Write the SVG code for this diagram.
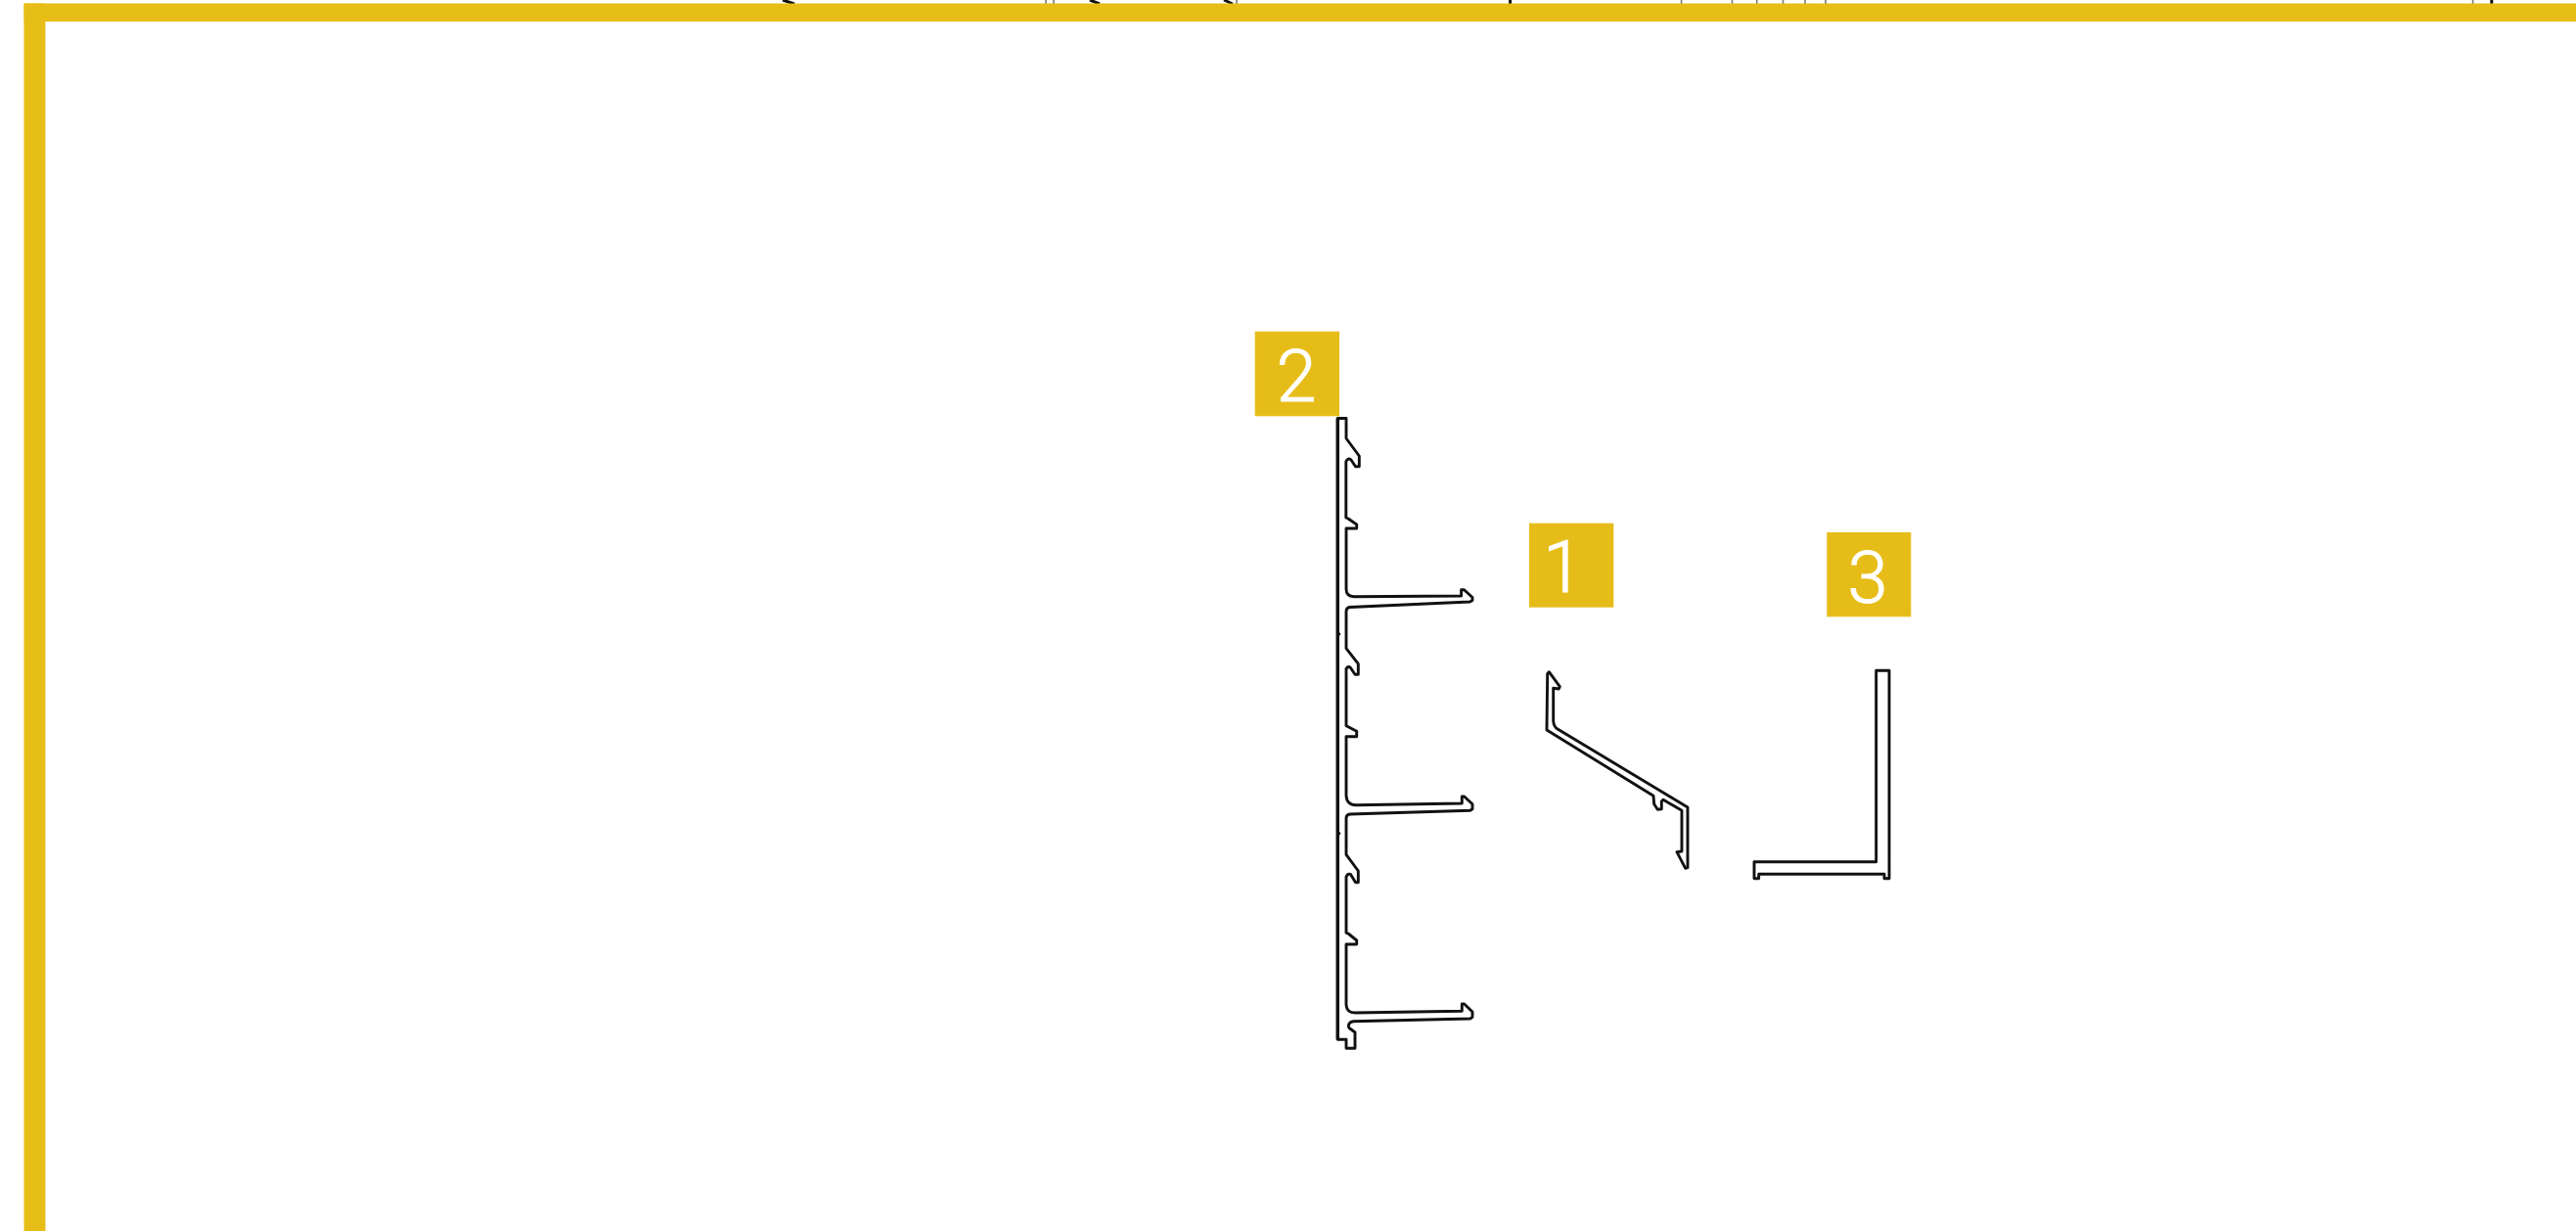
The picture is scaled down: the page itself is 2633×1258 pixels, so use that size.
<svg xmlns="http://www.w3.org/2000/svg" width="2633" height="1258" viewBox="0 0 2633 1258">
<style>
.bar{fill:#e6be17}
.badge{fill:#e6bd18}
.num{font-family:"Roboto","Liberation Sans",sans-serif;font-weight:300;font-size:74px;fill:#fff;stroke:#fff;stroke-width:1;text-anchor:middle}
.profile{fill:#fff;stroke:#111;stroke-width:2.9;stroke-linejoin:round}
.tick{stroke:#777;stroke-width:1.6;fill:none}
.tickd{stroke:#111;stroke-width:3;fill:none}
</style>
<rect width="2633" height="1258" fill="#fff"/>
<g id="cut-off-marks">
<path class="tick" d="M1718.6 0V4M1770.5 0V4M1795.7 0V4M1822.5 0V4M1845 0V4M1866 0V4M2527.6 0V4M1069 0V4M1077 0V4M1264 0V4"/>
<path class="tickd" d="M1543.6 0V4M2546.8 0V4M800 0L812 4M1114 0L1124 4M1251 0L1260 4"/>
</g>
<g id="frame">
<rect class="bar" x="24.5" y="3.5" width="2608.5" height="18.5"/>
<rect class="bar" x="24.5" y="3.5" width="22" height="1254.5"/>
</g>
<g id="node-2">
<rect class="badge" x="1282.7" y="338.7" width="86.3" height="86.6"/>
<text class="num" x="1325" y="409.5">2</text>
<path class="profile" d="M1367.3 427.5H1376V448L1389.3 466V476.7H1385.5L1381 470Q1378 467.5 1375.8 471.7V529L1378 530L1386.7 536V540H1376V602Q1376 609.5 1384 609.7L1493.6 609V602.7H1496.5L1505 610.5V613.5L1502.5 615L1380 620.5Q1376 621 1376 625V662.7L1388.3 678.3V689.3H1385L1380.5 682.5Q1378 680 1376 683.5V741.7L1378 742.7L1386.7 747.3V752.7H1376V813Q1376.5 822.7 1386 822.7L1494.3 821V814H1496.7L1505 821.7V826.7L1502.7 828.3L1380 832Q1376 832.5 1376 836V873.3L1388.3 890V901.7H1385.5L1380.5 893.5Q1378 892 1376 896V953.3L1378 954L1386.7 961V965H1376V1027Q1376.5 1035 1385 1035L1494.3 1033.3V1026H1496.7L1505 1034V1039.3L1502.7 1041L1383.3 1043.7Q1378.3 1044.5 1378.3 1049L1379 1050.5L1385 1055V1071.3H1376V1062.3H1367.3V852.5L1368.8 851.7L1367.3 850V649L1368.8 648L1367.3 647Z"/>
<path d="M1367.3 427.5V1062.3" fill="none" stroke="#111" stroke-width="3.4"/>
</g>
<g id="node-1">
<rect class="badge" x="1563" y="534.7" width="86.3" height="86"/>
<text class="num" x="1597.5" y="605">1</text>
<path class="profile" d="M1581.7 688.5L1583.3 686.7L1594.3 701.7L1593.3 704L1587.7 703.3V736.7Q1588 742.5 1592 745L1725 825V886.7L1722.7 887.3L1714 870.7L1719 870V828.3L1700 817.3L1698.3 819V826.7L1694.3 827.3L1690.7 821.7L1690 813.3L1581 746Z"/>
</g>
<g id="node-3">
<rect class="badge" x="1867.3" y="544" width="86" height="86.3"/>
<text class="num" x="1909" y="615.5">3</text>
<path class="profile" d="M1917.7 685.3H1931V897.7H1926V893.3H1797.7V897.7H1793V880.7H1917.7Z"/>
</g>
</svg>
